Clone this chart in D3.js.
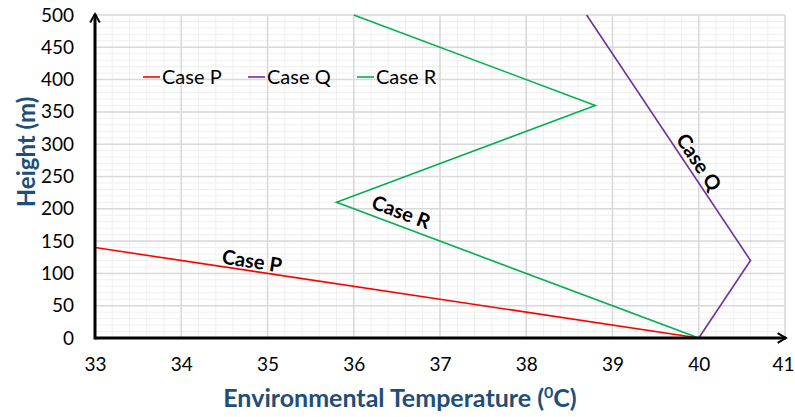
<!DOCTYPE html>
<html>
<head>
<meta charset="utf-8">
<script src="https://cdn.jsdelivr.net/npm/d3@7"></script>
<style>
  body { margin: 0; background: #fff; }
  text { font-family: Lato, "Open Sans", sans-serif; }
</style>
</head>
<body>
<div id="chart"></div>
<script>
// data
var seriesNames = ["Case P", "Case Q", "Case R"];
var seriesColors = ["#ff0000", "#7030a0", "#00b050"];
var caseP = [[40, 0], [33, 140]];
var caseQ = [[40, 0], [40.6, 120], [38.7, 500]];
var caseR = [[40, 0], [35.8, 210], [38.8, 360], [36.0, 500]];
var xTicks = [33, 34, 35, 36, 37, 38, 39, 40, 41];
var yTicks = [0, 50, 100, 150, 200, 250, 300, 350, 400, 450, 500];

// in-chart labels: series index, anchor (data units), segment used for the angle
var labels = [
    { s: 0, x: 34.82, y: 119, seg: [caseP[0], caseP[1]] },
    { s: 2, x: 36.55, y: 195, seg: [caseR[0], caseR[1]] },
    { s: 1, x: 40.0, y: 272, seg: [caseQ[1], caseQ[2]] }
];

function drawChart() {
    var margin = { top: 15, right: 10, bottom: 79, left: 95 };
    var width = 795 - margin.left - margin.right;
    var height = 417 - margin.top - margin.bottom;

    var x = d3.scaleLinear().domain([33, 41]).range([0, width]);
    var y = d3.scaleLinear().domain([0, 500]).range([height, 0]);

    var svg = d3.select("#chart")
        .append("svg")
        .attr("width", 795)
        .attr("height", 417)
        .append("g")
        .attr("transform", "translate(" + margin.left + "," + margin.top + ")");

    // minor grid
    svg.append("g").selectAll("line")
        .data(d3.range(33, 41.001, 0.2))
        .enter().append("line")
        .attr("x1", d => x(d)).attr("x2", d => x(d))
        .attr("y1", 0).attr("y2", height)
        .attr("stroke", "#efefef").attr("stroke-width", 1);
    svg.append("g").selectAll("line")
        .data(d3.range(0, 501, 10))
        .enter().append("line")
        .attr("y1", d => y(d)).attr("y2", d => y(d))
        .attr("x1", 0).attr("x2", width)
        .attr("stroke", "#efefef").attr("stroke-width", 1);

    // major grid
    svg.append("g").selectAll("line")
        .data(xTicks)
        .enter().append("line")
        .attr("x1", d => x(d)).attr("x2", d => x(d))
        .attr("y1", 0).attr("y2", height)
        .attr("stroke", "#d9d9d9").attr("stroke-width", 1.5);
    svg.append("g").selectAll("line")
        .data(yTicks)
        .enter().append("line")
        .attr("y1", d => y(d)).attr("y2", d => y(d))
        .attr("x1", 0).attr("x2", width)
        .attr("stroke", "#d9d9d9").attr("stroke-width", 1.5);

    // axes (labels only, lines drawn as arrows)
    var xAxis = d3.axisBottom(x).tickValues(xTicks).tickSize(0).tickPadding(20);
    var yAxis = d3.axisLeft(y).tickValues(yTicks).tickSize(0).tickPadding(21);

    var gx = svg.append("g")
        .attr("transform", "translate(0," + height + ")")
        .call(xAxis);
    gx.select(".domain").remove();
    gx.selectAll("text").style("font-size", "19px").attr("fill", "#000");
    // last label sits against the right edge
    gx.selectAll("text").filter(d => d === 41)
        .attr("text-anchor", "end")
        .attr("x", 9);

    var gy = svg.append("g").call(yAxis);
    gy.select(".domain").remove();
    gy.selectAll("text").style("font-size", "19px").attr("fill", "#000");

    // series lines
    var line = d3.line().x(d => x(d[0])).y(d => y(d[1]));
    var allSeries = [caseP, caseQ, caseR];
    svg.append("g").selectAll("path")
        .data(allSeries)
        .enter().append("path")
        .attr("d", d => line(d))
        .attr("fill", "none")
        .attr("stroke", (d, i) => seriesColors[i])
        .attr("stroke-width", 1.6);

    // arrow axes
    var defs = d3.select("svg").append("defs");
    defs.append("marker")
        .attr("id", "arrow")
        .attr("viewBox", "0 0 10 10")
        .attr("refX", 8).attr("refY", 5)
        .attr("markerWidth", 4).attr("markerHeight", 4)
        .attr("orient", "auto")
        .append("path")
        .attr("d", "M1,1 L8,5 L1,9")
        .attr("fill", "none")
        .attr("stroke", "#000")
        .attr("stroke-width", 1.6);

    svg.append("line")
        .attr("x1", x(33)).attr("x2", x(41) + 1)
        .attr("y1", y(0)).attr("y2", y(0))
        .attr("stroke", "#000").attr("stroke-width", 3)
        .attr("marker-end", "url(#arrow)");
    svg.append("line")
        .attr("x1", x(33)).attr("x2", x(33))
        .attr("y1", y(0) + 1.5).attr("y2", y(500) - 1)
        .attr("stroke", "#000").attr("stroke-width", 3)
        .attr("marker-end", "url(#arrow)");

    // legend
    var legendX = [143, 248, 357];
    var legend = svg.append("g");
    seriesNames.forEach(function (name, i) {
        legend.append("line")
            .attr("x1", legendX[i] - margin.left).attr("x2", legendX[i] - margin.left + 17)
            .attr("y1", 77 - margin.top).attr("y2", 77 - margin.top)
            .attr("stroke", seriesColors[i]).attr("stroke-width", 1.6);
        legend.append("text")
            .attr("x", legendX[i] - margin.left + 19)
            .attr("y", 77 - margin.top)
            .attr("dy", "0.35em")
            .style("font-size", "20px")
            .text(name);
    });

    // labels along the lines
    svg.selectAll(".case-label")
        .data(labels)
        .enter().append("text")
        .attr("class", "case-label")
        .attr("text-anchor", "middle")
        .attr("transform", function (d) {
            var a = d.seg[0], b = d.seg[1];
            var ang = Math.atan2(y(b[1]) - y(a[1]), x(b[0]) - x(a[0])) * 180 / Math.PI;
            if (ang > 90) ang -= 180;
            if (ang < -90) ang += 180;
            return "translate(" + x(d.x) + "," + y(d.y) + ") rotate(" + ang + ")";
        })
        .attr("dy", "0.35em")
        .style("font-size", "20px")
        .style("font-weight", "bold")
        .text(d => seriesNames[d.s]);

    // axis titles
    svg.append("text")
        .attr("transform", "rotate(-90)")
        .attr("x", -(152 - margin.top))
        .attr("y", 27 - margin.left)
        .attr("dy", "0.35em")
        .attr("text-anchor", "middle")
        .style("font-size", "24px")
        .style("font-weight", "bold")
        .attr("fill", "#1f4e79")
        .text("Height (m)");

    var xt = svg.append("text")
        .attr("x", 400 - margin.left)
        .attr("y", 398 - margin.top)
        .attr("dy", "0.35em")
        .attr("text-anchor", "middle")
        .style("font-size", "25px")
        .style("font-weight", "bold")
        .attr("fill", "#1f4e79");
    xt.append("tspan").text("Environmental Temperature (");
    xt.append("tspan").attr("baseline-shift", "super").style("font-size", "16px").text("0");
    xt.append("tspan").text("C)");
}

drawChart();
</script>
</body>
</html>
